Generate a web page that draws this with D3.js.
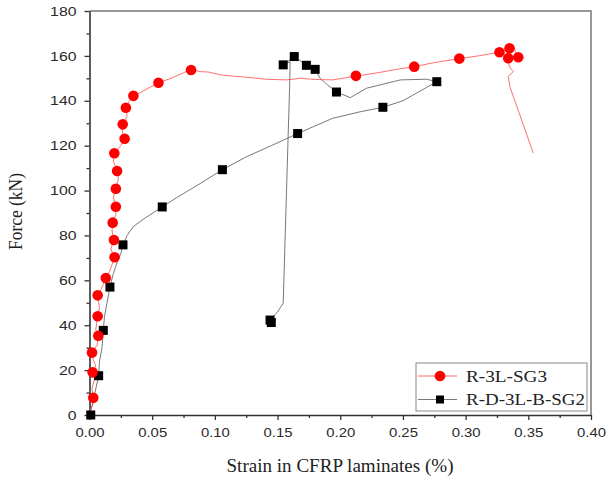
<!DOCTYPE html>
<html>
<head>
<meta charset="utf-8">
<script src="https://cdn.jsdelivr.net/npm/d3@7"></script>
<style>
  body { margin: 0; background: #fff; }
  .tick text { font-family: Arial, "Liberation Sans", sans-serif; font-size: 13px; fill: #2a2a2a; }
</style>
</head>
<body>
<svg id="chart" width="613" height="482"></svg>
<script>
// Force vs strain in CFRP laminates, two specimens
const xTicks = [0, 0.05, 0.10, 0.15, 0.20, 0.25, 0.30, 0.35, 0.40];
const xMinor = [0.025, 0.075, 0.125, 0.175, 0.225, 0.275, 0.325, 0.375];
const yTicks = [0, 20, 40, 60, 80, 100, 120, 140, 160, 180];
const yMinor = [10, 30, 50, 70, 90, 110, 130, 150, 170];

const seriesNames = ['R-3L-SG3', 'R-D-3L-B-SG2'];

// R-3L-SG3 trace [strain %, force kN]
const redLine = [
  [0,0],[0.001,3],[0.004,6],[0.003,8],[0.002,12],[0.004,16],[0.0025,19],[0.005,22],
  [0.002,26],[0.002,28],[0.006,31],[0.007,35],[0.005,38],[0.0065,44],[0.008,48],
  [0.0065,53],[0.010,57],[0.013,61],[0.016,64],[0.018,67],[0.020,70],[0.017,74],
  [0.0195,78],[0.018,82],[0.0185,86],[0.021,89],[0.021,93],[0.019,97],[0.021,101],
  [0.023,105],[0.022,109],[0.019,113],[0.020,117],[0.025,120],[0.028,123],[0.026,127],
  [0.0265,130],[0.030,133],[0.029,137],[0.032,140],[0.035,142],[0.040,143.5],[0.045,145],
  [0.055,148],[0.065,150],[0.075,152.5],[0.081,154],[0.088,153],[0.095,152.8],[0.105,151.5],
  [0.114,151],[0.125,150.5],[0.141,149.6],[0.157,149.3],[0.168,150],[0.180,149.5],
  [0.194,149.3],[0.2125,151],[0.230,152.5],[0.245,154],[0.259,155.2],[0.275,157],
  [0.295,158.8],[0.310,160],[0.327,161.6],[0.335,163.4],[0.338,164.3],[0.342,159.4],
  [0.334,159],[0.3348,155.2],[0.338,153],[0.334,150.8],[0.3353,146.3],[0.354,116.6]
];
const redMarks = [
  [0.003,7.7],[0.0025,19],[0.002,27.8],[0.007,35.3],[0.0065,44],[0.0065,53.3],[0.013,61],
  [0.020,70.3],[0.0195,78],[0.0185,85.7],[0.021,92.8],[0.021,100.8],[0.022,108.7],
  [0.0198,116.6],[0.028,123.1],[0.0265,129.5],[0.029,136.9],[0.035,142.2],[0.055,148],
  [0.081,153.7],[0.2125,151.1],[0.259,155.2],[0.295,158.8],[0.327,161.6],[0.335,163.4],
  [0.334,159],[0.342,159.4]
];

// R-D-3L-B-SG2 trace
const blackLine = [
  [0,0],[0.002,4],[0.004,9],[0.0073,17.5],[0.008,24],[0.010,30],[0.011,37.7],[0.012,44],
  [0.014,50],[0.0163,57],[0.019,63],[0.022,68],[0.025,72],[0.0267,75.8],[0.030,80],
  [0.035,84],[0.045,88],[0.058,92.7],[0.070,97],[0.085,102],[0.106,109.3],[0.125,115],
  [0.145,120],[0.166,125.4],[0.194,132.2],[0.215,135],[0.234,137.1],[0.250,140],
  [0.269,146],[0.277,148.5],[0.269,149.6],[0.248,149.3],[0.221,145.6],[0.208,141.4],
  [0.197,143.9],[0.190,147],[0.184,150],[0.180,154],[0.173,155.8],[0.1633,159.7],
  [0.1545,156],[0.160,157.4],[0.1598,150],[0.1545,49.8],[0.150,46],[0.144,42.3],[0.1435,41.5]
];
const blackMarks = [
  [0.001,0],[0.0073,17.5],[0.011,37.7],[0.0163,57],[0.0267,75.8],[0.058,92.7],[0.106,109.3],
  [0.166,125.4],[0.234,137.1],[0.277,148.5],[0.197,143.9],[0.180,154],[0.173,155.8],
  [0.1633,159.7],[0.1545,156],[0.144,42.3],[0.145,41.2]
];

const svg = d3.select('#chart');
const L = 89.5, R = 591, T = 11, B = 415;

const x = d3.scaleLinear().domain([0, 0.4]).range([L, R]);
const y = d3.scaleLinear().domain([0, 180]).range([B, T]);

// frame (top/right)
svg.append('path')
  .attr('d', `M${L},${T}H${R}V${B}`)
  .attr('fill', 'none').attr('stroke', '#777').attr('stroke-width', 1.5);

// minor ticks
svg.append('g').attr('transform', `translate(0,${B})`)
  .call(d3.axisBottom(x).tickValues(xMinor).tickSize(3).tickFormat(''))
  .call(g => g.select('.domain').remove())
  .selectAll('line').attr('stroke', '#333').attr('stroke-width', 1.3);
svg.append('g').attr('transform', `translate(${L},0)`)
  .call(d3.axisLeft(y).tickValues(yMinor).tickSize(3).tickFormat(''))
  .call(g => g.select('.domain').remove())
  .selectAll('line').attr('stroke', '#333').attr('stroke-width', 1.3);

// major axes
const xAxis = svg.append('g').attr('transform', `translate(0,${B})`)
  .call(d3.axisBottom(x).tickValues(xTicks).tickSize(5).tickSizeOuter(0).tickPadding(8).tickFormat(d3.format('.2f')));
const yAxis = svg.append('g').attr('transform', `translate(${L},0)`)
  .call(d3.axisLeft(y).tickValues(yTicks).tickSize(5).tickSizeOuter(0).tickPadding(8));

[xAxis, yAxis].forEach(a => {
  a.select('.domain').attr('stroke', '#333').attr('stroke-width', 1.6);
  a.selectAll('.tick line').attr('stroke', '#333').attr('stroke-width', 1.3);
});
xAxis.selectAll('.tick text').attr('textLength', 29).attr('lengthAdjust', 'spacingAndGlyphs');
yAxis.selectAll('.tick text')
  .attr('textLength', d => String(d).length * 8.8)
  .attr('lengthAdjust', 'spacingAndGlyphs');

// axis titles
svg.append('text')
  .attr('x', 340).attr('y', 472).attr('text-anchor', 'middle')
  .attr('font-family', '"Liberation Serif", "Times New Roman", serif').attr('font-size', 18)
  .attr('fill', '#222').attr('textLength', 227).attr('lengthAdjust', 'spacingAndGlyphs')
  .text('Strain in CFRP laminates (%)');
svg.append('text')
  .attr('transform', 'translate(22,211.5) rotate(-90)').attr('text-anchor', 'middle')
  .attr('font-family', '"Liberation Serif", "Times New Roman", serif').attr('font-size', 18)
  .attr('fill', '#222').attr('textLength', 77).attr('lengthAdjust', 'spacingAndGlyphs')
  .text('Force (kN)');

const line = d3.line().x(d => x(d[0])).y(d => y(d[1]));

svg.append('path').datum(blackLine).attr('d', line)
  .attr('fill', 'none').attr('stroke', '#555').attr('stroke-width', 0.8);
svg.append('path').datum(redLine).attr('d', line)
  .attr('fill', 'none').attr('stroke', '#ff4040').attr('stroke-width', 0.75);

svg.append('g').selectAll('rect').data(blackMarks).join('rect')
  .attr('x', d => x(d[0]) - 4.5).attr('y', d => y(d[1]) - 4.5)
  .attr('width', 9).attr('height', 9).attr('fill', '#000');
svg.append('g').selectAll('circle').data(redMarks).join('circle')
  .attr('cx', d => x(d[0])).attr('cy', d => y(d[1])).attr('r', 5.3).attr('fill', '#ff0000');

// legend
const lg = svg.append('g');
lg.append('rect').attr('x', 416).attr('y', 363).attr('width', 171).attr('height', 48)
  .attr('fill', '#fff').attr('stroke', '#888').attr('stroke-width', 1);
const rows = [
  { name: seriesNames[0], color: '#ff4040', y: 376, mark: 'circle' },
  { name: seriesNames[1], color: '#555', y: 399.5, mark: 'square' }
];
rows.forEach(r => {
  lg.append('line').attr('x1', 418).attr('x2', 457).attr('y1', r.y).attr('y2', r.y)
    .attr('stroke', r.color).attr('stroke-width', 0.8);
  if (r.mark === 'circle') {
    lg.append('circle').attr('cx', 440).attr('cy', r.y).attr('r', 5.3).attr('fill', '#ff0000');
  } else {
    lg.append('rect').attr('x', 436).attr('y', r.y - 4).attr('width', 8).attr('height', 8).attr('fill', '#000');
  }
  lg.append('text').attr('x', 466).attr('y', r.y + 5.5)
    .attr('font-family', '"Liberation Serif", "Times New Roman", serif').attr('font-size', 17)
    .attr('fill', '#222')
    .attr('textLength', r.mark === 'circle' ? 81 : 119).attr('lengthAdjust', 'spacingAndGlyphs')
    .text(r.name);
});
</script>
</body>
</html>
